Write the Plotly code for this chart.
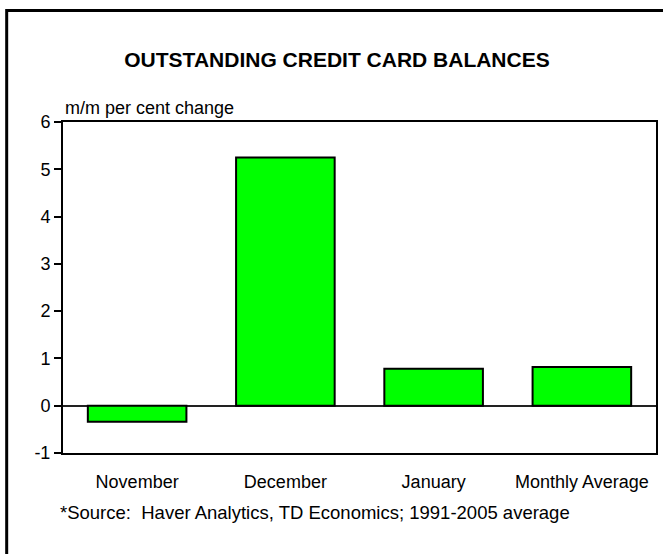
import plotly.graph_objects as go

# Month-over-month change in outstanding credit card balances (per cent)
categories = ["November", "December", "January", "Monthly Average"]
values = [-0.34, 5.25, 0.78, 0.82]
y_ticks = [-1, 0, 1, 2, 3, 4, 5, 6]

FONT = "Liberation Sans, Arial, sans-serif"

W, H = 663, 554
ML, MR, MT, MB = 63, 5, 122, 101
PW, PH = W - ML - MR, H - MT - MB


def px_to_paper_x(px):
    return (px - ML) / PW


def px_to_paper_y(py):
    return (H - MB - py) / PH


fig = go.Figure(
    go.Bar(
        x=categories,
        y=values,
        marker=dict(color="#00FF00", line=dict(color="black", width=2)),
        hoverinfo="x+y",
    )
)

fig.update_layout(
    width=W,
    height=H,
    margin=dict(l=ML, r=MR, t=MT, b=MB),
    paper_bgcolor="white",
    plot_bgcolor="white",
    bargap=0.335,
    showlegend=False,
    font=dict(family=FONT, size=18, color="black"),
    title=dict(
        text="<b>OUTSTANDING CREDIT CARD BALANCES</b>",
        font=dict(family=FONT, size=21, color="black"),
        x=337 / W,
        xanchor="center",
        xref="container",
        y=1 - 60 / H,
        yanchor="middle",
        yref="container",
    ),
)

fig.update_xaxes(
    type="category",
    showline=True,
    linecolor="black",
    linewidth=2,
    mirror=True,
    ticks="",
    showgrid=False,
    zeroline=False,
    tickfont=dict(family=FONT, size=18, color="black"),
    ticklabelstandoff=11,
)

fig.update_yaxes(
    range=[-1, 6],
    tickvals=y_ticks,
    ticktext=[str(v) for v in y_ticks],
    showline=True,
    linecolor="black",
    linewidth=2,
    mirror=True,
    ticks="outside",
    ticklen=7,
    tickwidth=2,
    tickcolor="black",
    showgrid=False,
    zeroline=True,
    zerolinecolor="#222222",
    zerolinewidth=1.5,
    tickfont=dict(family=FONT, size=18, color="black"),
)

fig.add_annotation(
    text="m/m per cent change",
    xref="paper",
    yref="paper",
    x=0,
    xanchor="left",
    y=px_to_paper_y(108),
    yanchor="middle",
    showarrow=False,
    font=dict(family=FONT, size=18, color="black"),
)

fig.add_annotation(
    text="*Source:  Haver Analytics, TD Economics; 1991-2005 average",
    xref="paper",
    yref="paper",
    x=px_to_paper_x(58),
    xanchor="left",
    y=px_to_paper_y(512),
    yanchor="middle",
    showarrow=False,
    font=dict(family=FONT, size=18.5, color="black"),
)

# Outer frame around the whole chart
fig.add_shape(
    type="rect",
    xref="paper",
    yref="paper",
    x0=px_to_paper_x(6.5),
    x1=px_to_paper_x(680),
    y0=px_to_paper_y(580),
    y1=px_to_paper_y(10.5),
    line=dict(color="black", width=3),
    fillcolor="rgba(0,0,0,0)",
    layer="above",
)

fig.write_html("out.html")
